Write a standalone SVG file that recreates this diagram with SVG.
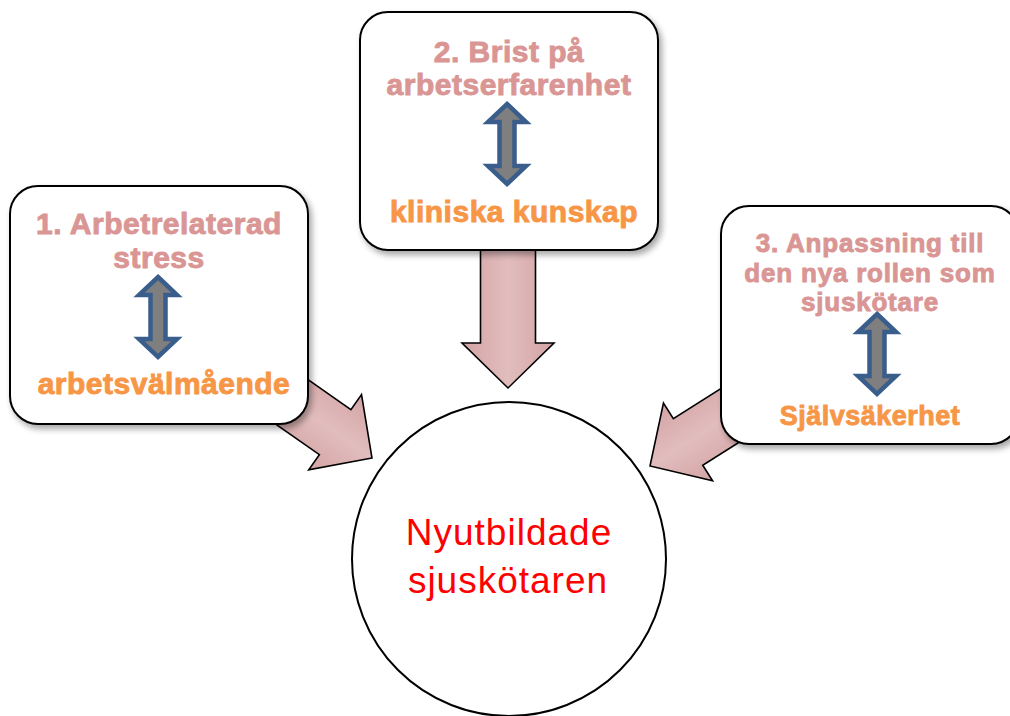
<svg xmlns="http://www.w3.org/2000/svg" width="1010" height="716" viewBox="0 0 1010 716">
  <defs>
    <filter id="shadow" x="-10%" y="-10%" width="130%" height="130%">
      <feDropShadow dx="3" dy="4" stdDeviation="3" flood-color="#000" flood-opacity="0.35"/>
    </filter>
    <linearGradient id="arrowGrad" x1="0" y1="0" x2="1" y2="0">
      <stop offset="0" stop-color="#D3A3A4"/>
      <stop offset="0.5" stop-color="#E2BDBE"/>
      <stop offset="1" stop-color="#D3A3A4"/>
    </linearGradient>
    <path id="bigArrow" d="M 0 0 L -46 -45 L -27.5 -45 L -27.5 -140 L 27.5 -140 L 27.5 -45 L 46 -45 Z"/>
    <path id="dblArrow" d="M 0 4 L 19 22 L 7.5 22 L 7.5 66 L 19 66 L 0 84 L -19 66 L -7.5 66 L -7.5 22 L -19 22 Z"/>
  </defs>
  <style>
    .big { fill: url(#arrowGrad); stroke: #000; stroke-width: 1.6; stroke-linejoin: miter; }
    .box { fill: #fff; stroke: #000; stroke-width: 2; filter: url(#shadow); }
    .dbl { fill: #7F7F7F; stroke: #3A5E8C; stroke-width: 4.5; stroke-linejoin: miter; }
    .title { font-family: "Liberation Sans", Arial, sans-serif; font-weight: bold; fill: #DA9694; stroke: #DA9694; stroke-width: 0.9; text-anchor: middle; font-size: 30px; letter-spacing: 0.5px; }
    .title3 { font-size: 26px; letter-spacing: 0.8px; }
    .sub { font-family: "Liberation Sans", Arial, sans-serif; font-weight: bold; fill: #F79646; stroke: #F79646; stroke-width: 0.9; text-anchor: middle; font-size: 30px; letter-spacing: 0.5px; }
    .center { font-family: "Liberation Sans", Arial, sans-serif; fill: #FF0000; text-anchor: middle; font-size: 37px; letter-spacing: 1px; }
  </style>
  <rect width="1010" height="716" fill="#fff"/>

  <g id="connectors">
    <use href="#bigArrow" class="big" transform="translate(508,388)"/>
    <use href="#bigArrow" class="big" transform="translate(372,458) rotate(-55)"/>
    <use href="#bigArrow" class="big" transform="translate(650,466) rotate(57.7)"/>
  </g>

  <g id="box1">
    <rect class="box" x="10" y="186" width="298" height="238" rx="28" ry="28"/>
    <text class="title" x="159" y="234">1. Arbetrelaterad</text>
    <text class="title" x="159" y="268">stress</text>
    <use href="#dblArrow" class="dbl" transform="translate(158,273)"/>
    <text class="sub" x="164" y="394">arbetsvälmående</text>
  </g>

  <g id="box2">
    <rect class="box" x="360" y="12" width="298" height="238" rx="28" ry="28"/>
    <text class="title" x="509" y="62">2. Brist på</text>
    <text class="title" x="509" y="95">arbetserfarenhet</text>
    <use href="#dblArrow" class="dbl" transform="translate(507,100)"/>
    <text class="sub" x="514" y="222">kliniska kunskap</text>
  </g>

  <g id="box3">
    <rect class="box" x="721" y="206" width="298" height="238" rx="28" ry="28"/>
    <text class="title title3" x="870" y="252">3. Anpassning till</text>
    <text class="title title3" x="870" y="282">den nya rollen som</text>
    <text class="title title3" x="870" y="311">sjuskötare</text>
    <use href="#dblArrow" class="dbl" transform="translate(877,310)"/>
    <text class="sub" x="870" y="425" style="font-size:27px">Självsäkerhet</text>
  </g>

  <g id="center">
    <circle cx="509" cy="559" r="157" fill="#fff" stroke="#000" stroke-width="2"/>
    <text class="center" x="509" y="545">Nyutbildade</text>
    <text class="center" x="508" y="593">sjuskötaren</text>
  </g>
</svg>
